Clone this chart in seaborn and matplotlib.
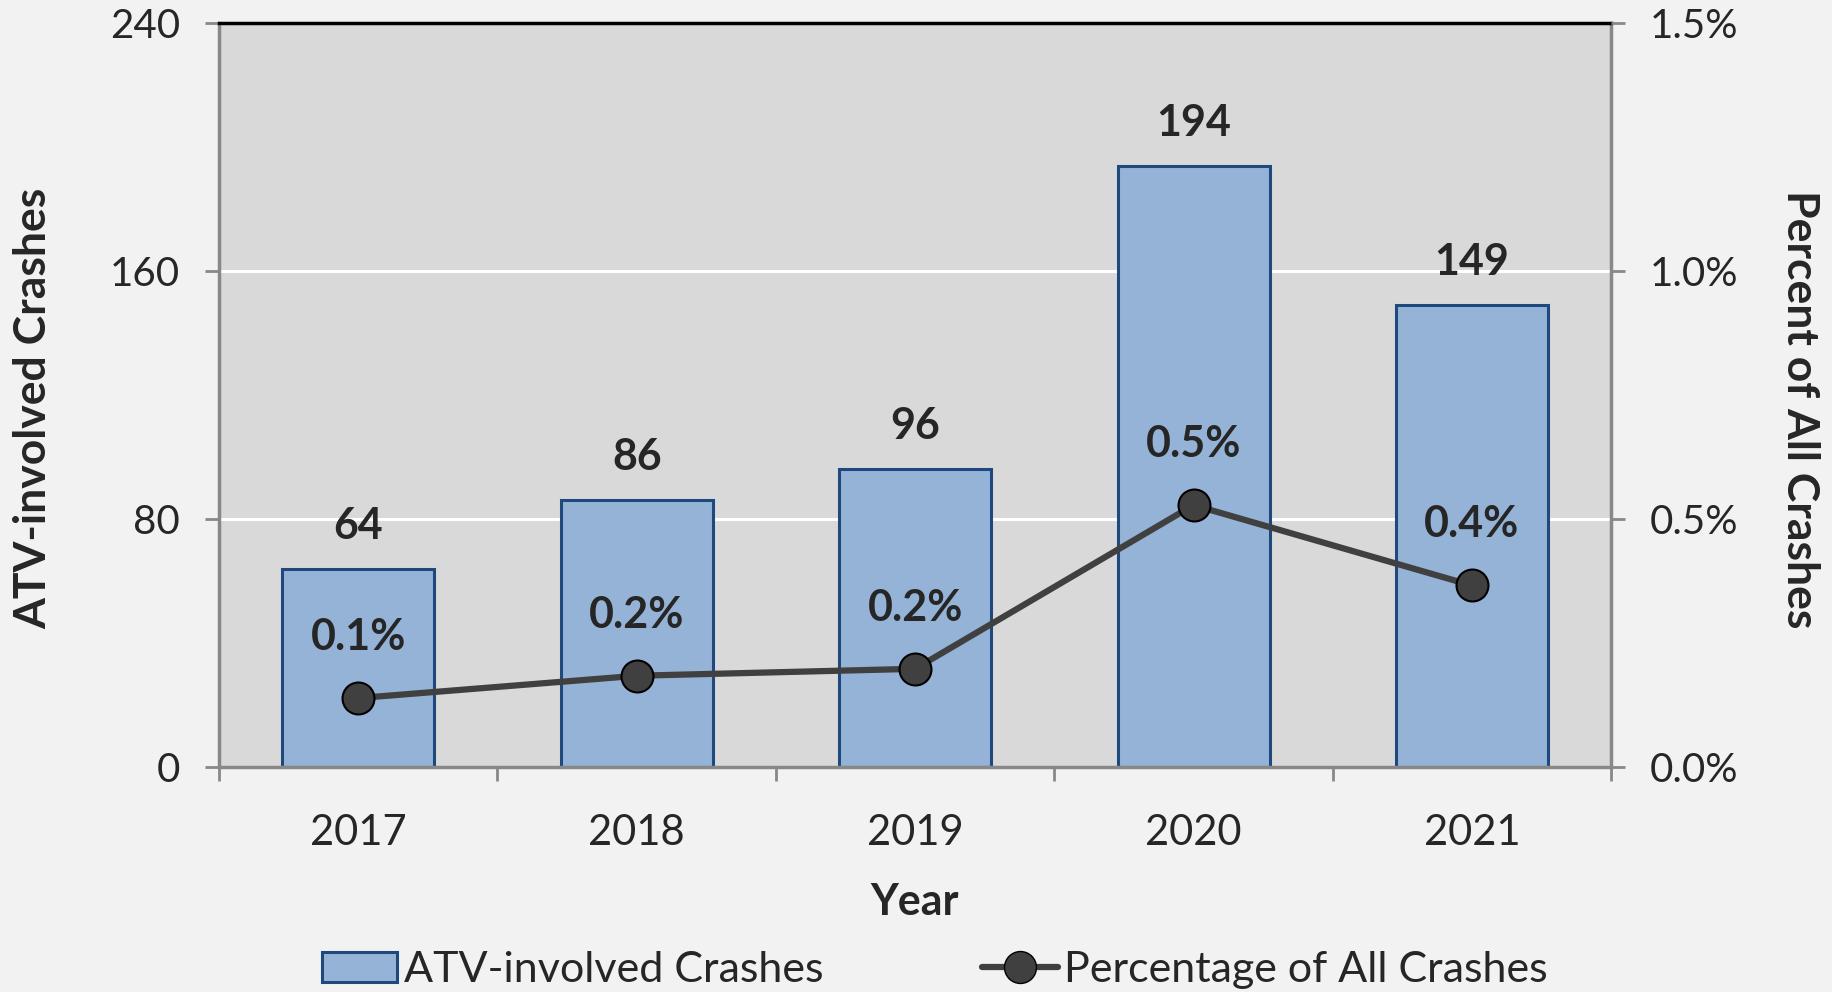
import numpy as np
import pandas as pd
import matplotlib
matplotlib.use("Agg")
import matplotlib.pyplot as plt
from matplotlib.patches import Patch
from matplotlib.lines import Line2D
from matplotlib.ticker import FixedLocator
import seaborn as sns

# Chart data
years = ["2017", "2018", "2019", "2020", "2021"]
atv_crashes = [64, 86, 96, 194, 149]
pct_all_crashes = [0.139, 0.184, 0.198, 0.528, 0.366]
pct_labels = ["0.1%", "0.2%", "0.2%", "0.5%", "0.4%"]
left_ticks = [0, 80, 160, 240]
right_ticks = [0.0, 0.5, 1.0, 1.5]
right_tick_labels = ["0.0%", "0.5%", "1.0%", "1.5%"]

df = pd.DataFrame({"year": years, "crashes": atv_crashes, "pct": pct_all_crashes})

sns.set_theme(style="white")
plt.rcParams["font.family"] = ["Lato", "DejaVu Sans"]

bar_fill = "#95B3D7"
bar_edge = "#1F497D"
line_col = "#404040"
spine_col = "#888888"

fig = plt.figure(figsize=(18.33, 9.92), dpi=100, facecolor="#F2F2F2")
ax = fig.add_axes([0.1195, 0.2268, 0.7595, 0.75])
ax.set_facecolor("#D9D9D9")

sns.barplot(data=df, x="year", y="crashes", ax=ax, color=bar_fill,
            edgecolor=bar_edge, linewidth=2.2, width=0.546, saturation=1, zorder=2)
ax.set_ylim(0, 240)
ax.set_xlim(-0.5, 4.5)
ax.set_yticks(left_ticks)
ax.yaxis.grid(True, color="white", linewidth=2.2, zorder=0)
ax.set_axisbelow(True)
ax.set_xlabel("")
ax.set_ylabel("")

ax.tick_params(axis="y", which="major", direction="out", length=10, width=2,
               color=spine_col, labelsize=29, pad=18, left=True)
ax.tick_params(axis="x", which="major", length=0, labelsize=30, pad=34)
ax.xaxis.set_minor_locator(FixedLocator(np.arange(-0.5, 5, 1)))
ax.tick_params(axis="x", which="minor", direction="out", length=10, width=2,
               color=spine_col, bottom=True)

for side in ["left", "bottom", "right"]:
    ax.spines[side].set_color(spine_col)
    ax.spines[side].set_linewidth(2.5)
ax.spines["top"].set_color("black")
ax.spines["top"].set_linewidth(2.5)

# count labels above the bars
for i, v in enumerate(atv_crashes):
    ax.annotate(str(v), (i, v), xytext=(0, 31), textcoords="offset points",
                ha="center", va="center", fontsize=31, fontweight="bold")

ax2 = ax.twinx()
sns.pointplot(data=df, x="year", y="pct", ax=ax2, color=line_col,
              markers="o", markersize=23, linewidth=4.5,
              markeredgecolor="black", markeredgewidth=1.5, zorder=5)
ax2.set_ylim(0, 1.5)
ax2.set_xlim(-0.5, 4.5)
ax2.set_yticks(right_ticks)
ax2.set_yticklabels(right_tick_labels)
ax2.set_ylabel("")
ax2.set_xlabel("")
ax2.tick_params(axis="y", direction="out", length=10, width=2, color=spine_col,
                labelsize=29, pad=18, right=True)
for sp in ax2.spines.values():
    sp.set_visible(False)

# percent labels above the points
for i, (v, lab) in enumerate(zip(pct_all_crashes, pct_labels)):
    ax2.annotate(lab, (i, v), xytext=(0, 44), textcoords="offset points",
                 ha="center", va="center", fontsize=31, fontweight="bold")

fig.text(0.018, 0.588, "ATV-involved Crashes", rotation=90, ha="center", va="center",
         fontsize=32, fontweight="bold")
fig.text(0.982, 0.588, "Percent of All Crashes", rotation=-90, ha="center", va="center",
         fontsize=32, fontweight="bold")
fig.text(0.499, 0.0907, "Year", ha="center", va="center", fontsize=31, fontweight="bold")

handles = [
    Patch(facecolor=bar_fill, edgecolor=bar_edge, linewidth=2.2, label="ATV-involved Crashes"),
    Line2D([0], [0], color=line_col, linewidth=4.5, marker="o", markersize=23,
           markeredgecolor="black", markerfacecolor=line_col, label="Percentage of All Crashes"),
]
fig.legend(handles=handles, loc="center", bbox_to_anchor=(0.51, 0.022), ncol=2,
           frameon=False, fontsize=31, handlelength=1.75, handletextpad=0.15,
           columnspacing=3.7)

fig.savefig("out.png", dpi=100, facecolor=fig.get_facecolor())
